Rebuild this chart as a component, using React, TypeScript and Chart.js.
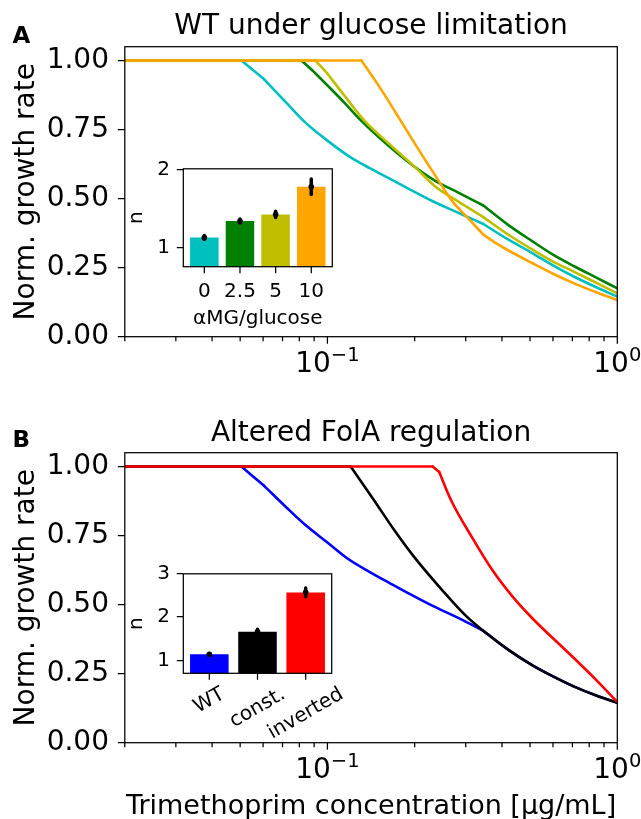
import React, { useEffect, useRef } from "react";
import { Chart, registerables } from "chart.js";

Chart.register(...registerables);

const FONT = "'DejaVu Sans', 'Liberation Sans', sans-serif";

// ---- shared axes ----
const xMin = 0.02;
const xMax = 1;
const yMin = 0;
const yMax = 1.05;
const yTickValues = [0, 0.25, 0.5, 0.75, 1];
const xMajorValues = [0.1, 1];
const xMajorBase = "10";
const xMajorExponents = ["\u22121", "0"];

const titleA = "WT under glucose limitation";
const titleB = "Altered FolA regulation";
const yAxisLabel = "Norm. growth rate";
const xAxisLabel = "Trimethoprim concentration [\u03bcg/mL]";

// ---- panel A curves (concentration, normalized growth); kinks = x of sharp corners ----
const cyanAX = [0.02, 0.0505, 0.0605, 0.0725, 0.084, 0.1, 0.118, 0.14, 0.164, 0.195, 0.228, 0.285, 0.345, 0.42, 0.51, 0.6, 0.71, 0.85, 1.0];
const cyanAY = [1.0, 1.0, 0.932, 0.845, 0.775, 0.71, 0.655, 0.61, 0.572, 0.53, 0.493, 0.447, 0.408, 0.352, 0.302, 0.258, 0.217, 0.178, 0.145];
const cyanAKinks = [0.0505, 0.0605, 0.345];

const greenAX = [0.02, 0.0813, 0.0886, 0.1, 0.115, 0.1302, 0.1588, 0.193, 0.2348, 0.285, 0.345, 0.42, 0.51, 0.6, 0.71, 0.85, 1.0];
const greenAY = [1.0, 1.0, 0.965, 0.91, 0.845, 0.784, 0.7, 0.627, 0.565, 0.52, 0.475, 0.405, 0.345, 0.297, 0.255, 0.213, 0.175];
const greenAKinks = [0.0813, 0.0886, 0.345];

const oliveAX = [0.02, 0.091, 0.0999, 0.115, 0.1337, 0.1694, 0.2, 0.2348, 0.285, 0.345, 0.42, 0.51, 0.6, 0.71, 0.85, 1.0];
const oliveAY = [1.0, 1.0, 0.953, 0.87, 0.784, 0.683, 0.615, 0.545, 0.487, 0.433, 0.37, 0.315, 0.272, 0.235, 0.194, 0.157];
const oliveAKinks = [0.091, 0.0999, 0.345];

const orangeAX = [0.02, 0.131, 0.15, 0.17, 0.2, 0.235, 0.27, 0.305, 0.345, 0.38, 0.42, 0.51, 0.6, 0.71, 0.85, 1.0];
const orangeAY = [1.0, 1.0, 0.91, 0.82, 0.7, 0.585, 0.49, 0.43, 0.37, 0.34, 0.313, 0.266, 0.228, 0.193, 0.16, 0.133];
const orangeAKinks = [0.131, 0.345];

// ---- panel B curves ----
const blueBX = [0.02, 0.0505, 0.0605, 0.0725, 0.084, 0.1, 0.118, 0.14, 0.164, 0.195, 0.228, 0.285, 0.345, 0.42, 0.51, 0.6, 0.71, 0.85, 1.0];
const blueBY = [1.0, 1.0, 0.93, 0.85, 0.788, 0.725, 0.665, 0.618, 0.578, 0.535, 0.498, 0.45, 0.405, 0.337, 0.28, 0.24, 0.203, 0.17, 0.145];
const blueBKinks = [0.0505, 0.0605, 0.345];

const blackBX = [0.02, 0.1202, 0.125, 0.1448, 0.17, 0.2, 0.25, 0.3, 0.345, 0.42, 0.51, 0.6, 0.71, 0.85, 1.0];
const blackBY = [1.0, 1.0, 0.975, 0.878, 0.77, 0.67, 0.55, 0.46, 0.405, 0.337, 0.28, 0.24, 0.203, 0.17, 0.145];
const blackBKinks = [0.1202];

const redBX = [0.02, 0.2307, 0.243, 0.267, 0.3147, 0.3706, 0.436, 0.513, 0.6, 0.711, 0.85, 1.0];
const redBY = [1.0, 1.0, 0.98, 0.878, 0.745, 0.625, 0.528, 0.447, 0.378, 0.305, 0.225, 0.147];
const redBKinks = [0.2307, 0.243];

// ---- insets ----
const insetACategories = ["0", "2.5", "5", "10"];
const insetAValues = [1.13, 1.34, 1.425, 1.78];
const insetAErrors = [0.025, 0.025, 0.04, 0.1];
const insetAColors = ["#00bfbf", "#008000", "#bfbf00", "#ffa500"];
const insetATicks = [1, 2];
const insetAXLabel = "\u03b1MG/glucose";

const insetBCategories = ["WT", "const.", "inverted"];
const insetBValues = [1.14, 1.66, 2.57];
const insetBErrors = [0.02, 0.06, 0.1];
const insetBColors = ["#0000ff", "#000000", "#ff0000"];
const insetBTicks = [1, 2, 3];
const insetYLabel = "n";

type Series = { xs: number[]; ys: number[]; kinks: number[]; color: string };

const seriesA: Series[] = [
  { xs: cyanAX, ys: cyanAY, kinks: cyanAKinks, color: "#00bfbf" },
  { xs: greenAX, ys: greenAY, kinks: greenAKinks, color: "#008000" },
  { xs: oliveAX, ys: oliveAY, kinks: oliveAKinks, color: "#bfbf00" },
  { xs: orangeAX, ys: orangeAY, kinks: orangeAKinks, color: "#ffa500" },
];
const seriesB: Series[] = [
  { xs: blueBX, ys: blueBY, kinks: blueBKinks, color: "#0000ff" },
  { xs: blackBX, ys: blackBY, kinks: blackBKinks, color: "#000000" },
  { xs: redBX, ys: redBY, kinks: redBKinks, color: "#ff0000" },
];

// split a series at its sharp corners so that each smooth piece is interpolated separately
function pieces(s: Series) {
  const out: { x: number; y: number }[][] = [];
  let cur: { x: number; y: number }[] = [];
  s.xs.forEach((x, i) => {
    const p = { x, y: s.ys[i] };
    cur.push(p);
    if (s.kinks.indexOf(x) >= 0 && i > 0 && i < s.xs.length - 1) {
      out.push(cur);
      cur = [p];
    }
  });
  if (cur.length > 1) out.push(cur);
  return out;
}

type MainOpts = {
  w: number; h: number; left: number; right: number; top: number; bottom: number;
  title: string; titleY: number; letter: string; letterY: number; xLabelY?: number;
};

function mainDecor(o: MainOpts) {
  return {
    id: "mainDecor",
    afterDraw(chart: any) {
      const ctx = chart.ctx as CanvasRenderingContext2D;
      const ca = chart.chartArea;
      const xs = chart.scales.x;
      ctx.save();
      ctx.strokeStyle = "#000";
      ctx.fillStyle = "#000";
      ctx.lineWidth = 1.25;
      ctx.strokeRect(ca.left, ca.top, ca.right - ca.left, ca.bottom - ca.top);
      const e0 = Math.floor(Math.log10(xMin));
      const e1 = Math.ceil(Math.log10(xMax));
      for (let e = e0; e <= e1; e++) {
        for (let k = 1; k <= 9; k++) {
          const v = k * Math.pow(10, e);
          if (v < xMin * 0.999 || v > xMax * 1.001) continue;
          const px = xs.getPixelForValue(v);
          ctx.beginPath();
          ctx.moveTo(px, ca.bottom);
          ctx.lineTo(px, ca.bottom + (k === 1 ? 7 : 4.5));
          ctx.stroke();
        }
      }
      xMajorValues.forEach((v, i) => {
        const px = xs.getPixelForValue(v);
        ctx.font = `28px ${FONT}`;
        const wb = ctx.measureText(xMajorBase).width;
        ctx.font = `19.5px ${FONT}`;
        const we = ctx.measureText(xMajorExponents[i]).width;
        const x0 = px - (wb + we) / 2;
        const by = ca.bottom + 35;
        ctx.textAlign = "left";
        ctx.textBaseline = "alphabetic";
        ctx.font = `28px ${FONT}`;
        ctx.fillText(xMajorBase, x0, by);
        ctx.font = `19.5px ${FONT}`;
        ctx.fillText(xMajorExponents[i], x0 + wb, by - 11);
      });
      ctx.textAlign = "center";
      ctx.textBaseline = "alphabetic";
      ctx.font = `28px ${FONT}`;
      ctx.fillText(o.title, (ca.left + ca.right) / 2, o.titleY);
      ctx.textAlign = "left";
      ctx.font = `bold 23px ${FONT}`;
      ctx.fillText(o.letter, 12.5, o.letterY);
      ctx.save();
      ctx.translate(33.5, (ca.top + ca.bottom) / 2);
      ctx.rotate(-Math.PI / 2);
      ctx.textAlign = "center";
      ctx.font = `28px ${FONT}`;
      ctx.fillText(yAxisLabel, 0, 0);
      ctx.restore();
      if (o.xLabelY !== undefined) {
        ctx.textAlign = "center";
        ctx.font = `27px ${FONT}`;
        ctx.fillText(xAxisLabel, (ca.left + ca.right) / 2, o.xLabelY);
      }
      ctx.restore();
    },
  };
}

function makeMain(canvas: HTMLCanvasElement, series: Series[], o: MainOpts) {
  const datasets: any[] = [];
  series.forEach((s, idx) => {
    pieces(s).forEach((pts) => {
      datasets.push({
        data: pts,
        borderColor: s.color,
        backgroundColor: s.color,
        borderWidth: 2.6,
        pointRadius: 0,
        cubicInterpolationMode: "monotone",
        fill: false,
        borderJoinStyle: "round",
        borderCapStyle: "round",
        order: series.length - idx,
      });
    });
  });
  return new Chart(canvas, {
    type: "line",
    data: { datasets },
    options: {
      animation: false,
      responsive: false,
      events: [],
      layout: { padding: { left: 0, right: o.w - o.right, top: o.top, bottom: 0 } },
      plugins: { legend: { display: false }, tooltip: { enabled: false }, title: { display: false } },
      scales: {
        x: {
          type: "logarithmic",
          min: xMin,
          max: xMax,
          ticks: { display: false },
          grid: { display: false },
          border: { display: false },
          afterFit: (s: any) => { s.height = o.h - o.bottom; },
        },
        y: {
          type: "linear",
          min: yMin,
          max: yMax,
          afterBuildTicks: (s: any) => { s.ticks = yTickValues.map((v) => ({ value: v })); },
          ticks: {
            font: { family: FONT, size: 28 },
            color: "#000",
            padding: 8.8,
            autoSkip: false,
            callback: (v: any) => Number(v).toFixed(2),
          },
          grid: { drawOnChartArea: false, drawTicks: true, tickLength: 7, color: "#000", lineWidth: 1.25 },
          border: { display: false },
          afterFit: (s: any) => { s.width = o.left; },
        },
      },
    } as any,
    plugins: [mainDecor(o)],
  } as any);
}

type InsetOpts = {
  w: number; h: number; left: number; right: number; top: number; bottom: number;
  xMin: number; xMax: number; yMin: number; yMax: number;
  labelBaseline: number; rotate: number; xTitle?: string; xTitleY?: number;
  yLabelX: number;
};

function insetDecor(cats: string[], vals: number[], errs: number[], o: InsetOpts) {
  return {
    id: "insetDecor",
    beforeDraw(chart: any) {
      const ctx = chart.ctx as CanvasRenderingContext2D;
      const ca = chart.chartArea;
      ctx.save();
      ctx.fillStyle = "#fff";
      ctx.fillRect(ca.left, ca.top, ca.right - ca.left, ca.bottom - ca.top);
      ctx.restore();
    },
    afterDatasetsDraw(chart: any) {
      const ctx = chart.ctx as CanvasRenderingContext2D;
      const ys = chart.scales.y;
      const meta = chart.getDatasetMeta(0);
      ctx.save();
      ctx.strokeStyle = "#000";
      ctx.fillStyle = "#000";
      ctx.lineWidth = 3.5;
      ctx.lineCap = "round";
      vals.forEach((v, i) => {
        const px = meta.data[i].x;
        ctx.beginPath();
        ctx.moveTo(px, ys.getPixelForValue(v - errs[i]));
        ctx.lineTo(px, ys.getPixelForValue(v + errs[i]));
        ctx.stroke();
        ctx.beginPath();
        ctx.arc(px, ys.getPixelForValue(v), 2.8, 0, Math.PI * 2);
        ctx.fill();
      });
      ctx.restore();
    },
    afterDraw(chart: any) {
      const ctx = chart.ctx as CanvasRenderingContext2D;
      const ca = chart.chartArea;
      const xs = chart.scales.x;
      ctx.save();
      ctx.strokeStyle = "#000";
      ctx.fillStyle = "#000";
      ctx.lineWidth = 1.25;
      ctx.strokeRect(ca.left, ca.top, ca.right - ca.left, ca.bottom - ca.top);
      ctx.font = `20px ${FONT}`;
      cats.forEach((c, i) => {
        const px = xs.getPixelForValue(i);
        ctx.beginPath();
        ctx.moveTo(px, ca.bottom);
        ctx.lineTo(px, ca.bottom + 6.5);
        ctx.stroke();
        if (o.rotate === 0) {
          ctx.textAlign = "center";
          ctx.textBaseline = "alphabetic";
          ctx.fillText(c, px, ca.bottom + o.labelBaseline);
        } else {
          const th = (o.rotate * Math.PI) / 180;
          const w = ctx.measureText(c).width;
          const H = 23.2;
          const bh = w * Math.sin(th) + H * Math.cos(th);
          const cy = ca.bottom + 6.5 + o.labelBaseline + bh / 2;
          ctx.save();
          ctx.translate(px, cy);
          ctx.rotate(-th);
          ctx.textAlign = "center";
          ctx.textBaseline = "middle";
          ctx.fillText(c, 0, 0);
          ctx.restore();
        }
      });
      if (o.xTitle && o.xTitleY !== undefined) {
        ctx.textAlign = "center";
        ctx.textBaseline = "alphabetic";
        ctx.fillText(o.xTitle, (ca.left + ca.right) / 2, o.xTitleY);
      }
      ctx.save();
      ctx.translate(o.yLabelX, (ca.top + ca.bottom) / 2);
      ctx.rotate(-Math.PI / 2);
      ctx.textAlign = "center";
      ctx.textBaseline = "alphabetic";
      ctx.fillText(insetYLabel, 0, 0);
      ctx.restore();
      ctx.restore();
    },
  };
}

function makeInset(
  canvas: HTMLCanvasElement,
  cats: string[], vals: number[], errs: number[], colors: string[], yTicks: number[], o: InsetOpts
) {
  return new Chart(canvas, {
    type: "bar",
    data: {
      datasets: [
        {
          data: vals.map((v, i) => ({ x: i, y: v })),
          backgroundColor: colors,
          borderWidth: 0,
          categoryPercentage: 1,
          barPercentage: 0.8,
        },
      ],
    },
    options: {
      animation: false,
      responsive: false,
      events: [],
      layout: { padding: { left: 0, right: o.w - o.right, top: o.top, bottom: 0 } },
      plugins: { legend: { display: false }, tooltip: { enabled: false }, title: { display: false } },
      scales: {
        x: {
          type: "linear",
          offset: false,
          min: o.xMin,
          max: o.xMax,
          afterBuildTicks: (s: any) => { s.ticks = cats.map((_, i) => ({ value: i })); },
          ticks: { display: false },
          grid: { display: false, offset: false },
          border: { display: false },
          afterFit: (s: any) => { s.height = o.h - o.bottom; },
        },
        y: {
          type: "linear",
          min: o.yMin,
          max: o.yMax,
          afterBuildTicks: (s: any) => { s.ticks = yTicks.map((v) => ({ value: v })); },
          ticks: {
            font: { family: FONT, size: 20 },
            color: "#000",
            padding: 6.8,
            autoSkip: false,
            callback: (v: any) => String(v),
          },
          grid: { drawOnChartArea: false, drawTicks: true, tickLength: 6.5, color: "#000", lineWidth: 1.25 },
          border: { display: false },
          afterFit: (s: any) => { s.width = o.left; },
        },
      },
    } as any,
    plugins: [insetDecor(cats, vals, errs, o)],
  } as any);
}

export default function App() {
  const refA = useRef<HTMLCanvasElement>(null);
  const refB = useRef<HTMLCanvasElement>(null);
  const refIA = useRef<HTMLCanvasElement>(null);
  const refIB = useRef<HTMLCanvasElement>(null);

  useEffect(() => {
    const charts: Chart[] = [];
    charts.push(
      makeMain(refA.current!, seriesA, {
        w: 641, h: 410, left: 124.8, right: 617.3, top: 46.7, bottom: 336.7,
        title: titleA, titleY: 34.3, letter: "A", letterY: 43,
      })
    );
    charts.push(
      makeMain(refB.current!, seriesB, {
        w: 641, h: 409, left: 124.8, right: 617.3, top: 42.7, bottom: 332.7,
        title: titleB, titleY: 30.7, letter: "B", letterY: 36.7, xLabelY: 403.5,
      })
    );
    charts.push(
      makeInset(refIA.current!, insetACategories, insetAValues, insetAErrors, insetAColors, insetATicks, {
        w: 225, h: 185, left: 63.3, right: 212.3, top: 14.3, bottom: 116.7,
        xMin: -0.59, xMax: 3.59, yMin: 0.755, yMax: 2.01,
        labelBaseline: 30, rotate: 0, xTitle: insetAXLabel, xTitleY: 174.3, yLabelX: 21.7,
      })
    );
    charts.push(
      makeInset(refIB.current!, insetBCategories, insetBValues, insetBErrors, insetBColors, insetBTicks, {
        w: 235, h: 190, left: 63.3, right: 211.7, top: 17, bottom: 118.3,
        xMin: -0.54, xMax: 2.54, yMin: 0.7, yMax: 3.0,
        labelBaseline: 3, rotate: 30, yLabelX: 21.5,
      })
    );
    return () => charts.forEach((c) => c.destroy());
  }, []);

  return (
    <div style={{ position: "absolute", left: 0, top: 0, width: 641, height: 819, background: "#fff", overflow: "hidden" }}>
      <canvas ref={refA} width={641} height={410} style={{ position: "absolute", left: 0, top: 0 }} />
      <canvas ref={refB} width={641} height={409} style={{ position: "absolute", left: 0, top: 410 }} />
      <canvas ref={refIA} width={225} height={185} style={{ position: "absolute", left: 120, top: 150 }} />
      <canvas ref={refIB} width={235} height={190} style={{ position: "absolute", left: 120, top: 555 }} />
    </div>
  );
}
